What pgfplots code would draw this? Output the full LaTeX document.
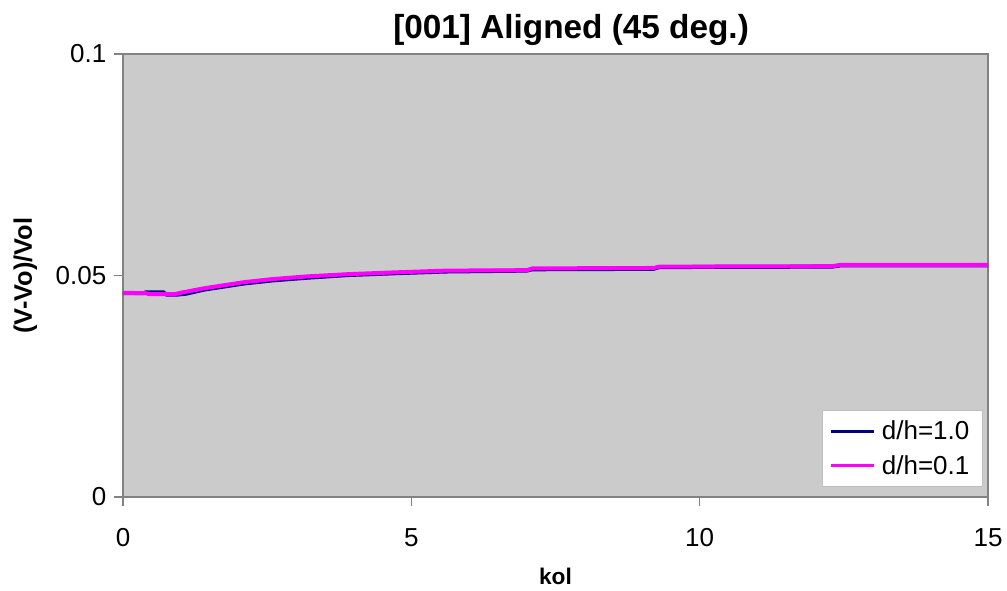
\documentclass[border=0pt]{standalone}
\usepackage{fontspec}
\setmainfont{Liberation Sans}
\usepackage{pgfplots}
\pgfplotsset{compat=1.18}
\definecolor{plotbg}{RGB}{203,203,203}
\definecolor{axgray}{RGB}{130,130,130}
\definecolor{leggray}{RGB}{190,190,190}
\definecolor{navyline}{RGB}{0,0,128}
\definecolor{magline}{RGB}{255,0,255}
\begin{document}
\begin{tikzpicture}
\begin{axis}[
  scale only axis,
  width=648.75pt, height=332.25pt,
  xmin=0, xmax=15, ymin=0, ymax=0.1,
  xtick={0,5,10,15}, ytick={0,0.05,0.1},
  yticklabels={0,0.05,0.1},
  scaled y ticks=false,
  axis background/.style={fill=plotbg},
  axis line style={draw=axgray, line width=1.2pt},
  tick style={draw=axgray, line width=1.2pt},
  tick align=outside, major tick length=7pt,
  xtick pos=left, ytick pos=left,
  /pgf/number format/assume math mode=true,
  ticklabel style={font=\fontsize{19.5}{22}\selectfont},
  xticklabel style={yshift=-13pt},
  yticklabel style={xshift=-2pt},
  title={\textbf{[001] Aligned (45 deg.)}},
  title style={font=\fontsize{25}{29}\selectfont, at={(rel axis cs:0.518,1)}, anchor=south, yshift=-3pt},
  xlabel={\textbf{kol}},
  ylabel={\textbf{(V-Vo)/Vol}},
  xlabel style={font=\fontsize{17}{20}\selectfont, yshift=-9pt},
  ylabel style={font=\fontsize{19}{22}\selectfont, yshift=7pt},
  legend style={at={(rel axis cs:0.9942,0.0226)}, anchor=south east,
    fill=white, draw=leggray, font=\fontsize{19.5}{23}\selectfont,
    row sep=6pt, inner xsep=5pt, inner ysep=6pt,
    nodes={inner xsep=5pt}},
  legend cell align=left,
  legend image code/.code={\draw[#1, line width=2.5pt] (0pt,0pt) -- (32pt,0pt);},
]
\addplot[navyline, line width=3pt, line join=round] coordinates {
(0,0.0460) (0.35,0.0460) (0.4,0.0462) (0.7,0.0462) (0.75,0.0457) (0.95,0.0457)
(1.1,0.0459) (1.4,0.0468) (1.8,0.0476) (2.1,0.0482) (2.6,0.0489) (3.2,0.0495)
(3.9,0.0501) (4.7,0.0505) (5.6,0.0509) (7.0,0.0511) (7.1,0.0514) (9.2,0.0515)
(9.3,0.0519) (12.3,0.0520) (12.45,0.0523) (15,0.0523)
};
\addlegendentry{d/h=1.0}
\addplot[magline, line width=3pt, line join=round] coordinates {
(0,0.0461) (0.4,0.0460) (0.45,0.0458) (0.9,0.0458) (1.0,0.0461) (1.4,0.0471)
(1.8,0.0479) (2.1,0.0485) (2.6,0.0492) (3.2,0.0498) (3.9,0.0503) (4.7,0.0507)
(5.6,0.0511) (7.0,0.0512) (7.1,0.0516) (9.2,0.0517) (9.3,0.0520) (12.3,0.0521)
(12.45,0.0524) (15,0.0524)
};
\addlegendentry{d/h=0.1}
\end{axis}
\pgfresetboundingbox
\useasboundingbox ([xshift=-92.25pt,yshift=-69.75pt]current axis.south west) rectangle ([xshift=14.25pt,yshift=40.5pt]current axis.north east);
\end{tikzpicture}
\end{document}
